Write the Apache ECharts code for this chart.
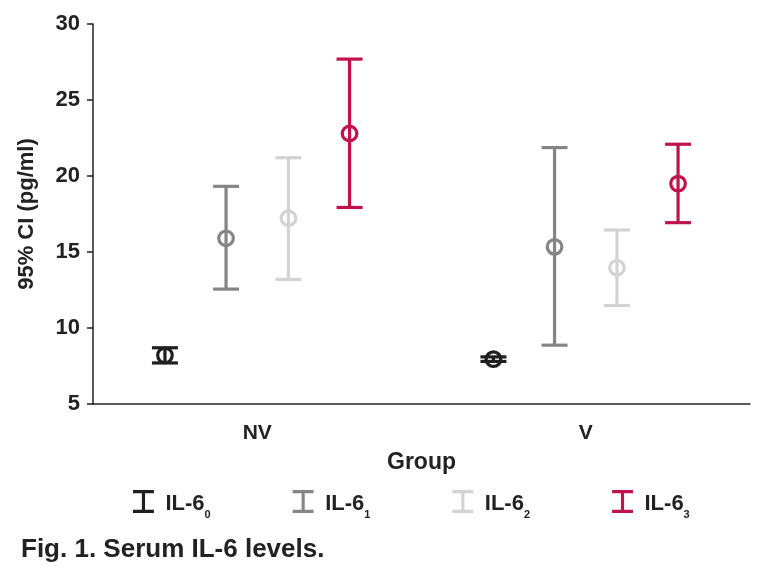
<!DOCTYPE html>
<html>
<head>
<meta charset="utf-8">
<script src="https://cdn.jsdelivr.net/npm/echarts@6/dist/echarts.min.js"></script>
<style>html,body{margin:0;padding:0;background:#fff;}#chart{width:760px;height:577px;}</style>
</head>
<body>
<div id="chart"></div>
<script>
// ---- data ----
var categories = ['NV', 'V'];
var seriesNames = ['IL-6_0', 'IL-6_1', 'IL-6_2', 'IL-6_3'];
var subscripts = ['0', '1', '2', '3'];
// per series: values for [NV, V]
var il6_0_lower = [7.70, 7.80];
var il6_0_mean  = [8.20, 7.95];
var il6_0_upper = [8.70, 8.10];
var il6_1_lower = [12.56, 8.87];
var il6_1_mean  = [15.90, 15.34];
var il6_1_upper = [19.32, 21.87];
var il6_2_lower = [13.20, 11.48];
var il6_2_mean  = [17.22, 13.96];
var il6_2_upper = [21.20, 16.45];
var il6_3_lower = [17.93, 16.93];
var il6_3_mean  = [22.80, 19.50];
var il6_3_upper = [27.69, 22.09];
var yTicks = [5, 10, 15, 20, 25, 30];

var lowers = [il6_0_lower, il6_1_lower, il6_2_lower, il6_3_lower];
var means = [il6_0_mean, il6_1_mean, il6_2_mean, il6_3_mean];
var uppers = [il6_0_upper, il6_1_upper, il6_2_upper, il6_3_upper];
var colors = ['#1f1f1f', '#858585', '#d3d3d3', '#c0134b'];
var offsets = [-0.281, -0.095, 0.095, 0.281];

var FONT = '"Liberation Sans", Arial, Helvetica, sans-serif';

function makeSeries(i) {
  var data = categories.map(function (c, k) {
    return [k, lowers[i][k], means[i][k], uppers[i][k]];
  });
  return {
    name: seriesNames[i],
    type: 'custom',
    itemStyle: { color: colors[i] },
    data: data,
    encode: { x: 0, y: [1, 2, 3] },
    renderItem: function (params, api) {
      var cat = api.value(0);
      var lo = api.value(1), mid = api.value(2), hi = api.value(3);
      var bw = api.size([1, 0])[0];
      var pMid = api.coord([cat, mid]);
      var x = pMid[0] + offsets[i] * bw;
      var yLo = api.coord([cat, lo])[1];
      var yHi = api.coord([cat, hi])[1];
      var hw = 13;
      var st = { stroke: colors[i], lineWidth: 3.2, fill: null };
      return {
        type: 'group',
        children: [
          { type: 'line', shape: { x1: x, y1: yHi, x2: x, y2: yLo }, style: st },
          { type: 'line', shape: { x1: x - hw, y1: yHi, x2: x + hw, y2: yHi }, style: st },
          { type: 'line', shape: { x1: x - hw, y1: yLo, x2: x + hw, y2: yLo }, style: st },
          { type: 'circle', shape: { cx: x, cy: pMid[1], r: 7.3 }, style: { stroke: colors[i], lineWidth: 3.2, fill: 'none' } }
        ]
      };
    }
  };
}

var chart = echarts.init(document.getElementById('chart'), null, { renderer: 'canvas' });
var option = {
  backgroundColor: '#ffffff',
  animation: false,
  grid: { left: 93, right: 10, top: 24, bottom: 173 },
  xAxis: {
    type: 'category',
    data: categories,
    name: 'Group',
    nameLocation: 'middle',
    nameGap: 47,
    nameTextStyle: { fontFamily: FONT, fontWeight: 'bold', fontSize: 23, color: '#222' },
    axisLine: { lineStyle: { color: '#222', width: 1.5 } },
    axisTick: { alignWithLabel: true, length: 5, lineStyle: { color: '#222', width: 1.5 } },
    axisLabel: { fontFamily: FONT, fontWeight: 'bold', fontSize: 21, color: '#222', margin: 19 }
  },
  yAxis: {
    type: 'value',
    min: yTicks[0],
    max: yTicks[yTicks.length - 1],
    interval: 5,
    name: '95% CI (pg/ml)',
    nameLocation: 'middle',
    nameGap: 55,
    nameTextStyle: { fontFamily: FONT, fontWeight: 'bold', fontSize: 22, color: '#222' },
    axisLine: { show: true, lineStyle: { color: '#222', width: 1.5 } },
    axisTick: { show: true, length: 6, lineStyle: { color: '#222', width: 1.5 } },
    axisLabel: { fontFamily: FONT, fontWeight: 'bold', fontSize: 22, color: '#222', margin: 13 },
    splitLine: { show: false }
  },
  legend: {
    left: 128,
    top: 485,
    itemWidth: 22,
    itemHeight: 23,
    itemGap: 82,
    icon: 'path://M0,0H20V3H11.5V19H20V22H0V19H8.5V3H0Z',
    data: seriesNames,
    formatter: function (name) {
      var idx = seriesNames.indexOf(name);
      return '{m|IL-6}{s|' + subscripts[idx] + '}';
    },
    textStyle: {
      padding: [0, 0, 0, 6],
      rich: {
        m: { fontFamily: FONT, fontWeight: 'bold', fontSize: 22, color: '#222', lineHeight: 26, verticalAlign: 'bottom' },
        s: { fontFamily: FONT, fontWeight: 'bold', fontSize: 11, color: '#222', lineHeight: 26, verticalAlign: 'bottom', padding: [0, 0, -6, 0] }
      }
    }
  },
  title: {
    text: 'Fig. 1. Serum IL-6 levels.',
    left: 16,
    top: 532,
    textStyle: { fontFamily: FONT, fontWeight: 'bold', fontSize: 26, color: '#222' }
  },
  series: [0, 1, 2, 3].map(makeSeries)
};
chart.setOption(option);
</script>
</body>
</html>
